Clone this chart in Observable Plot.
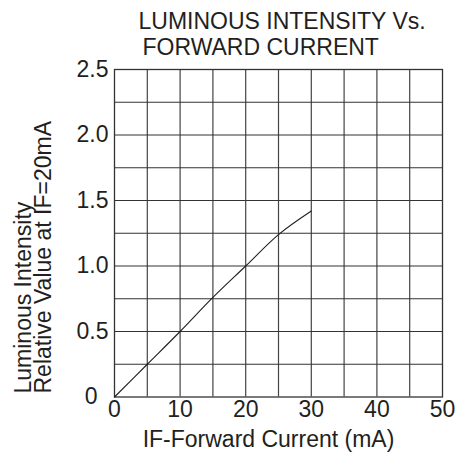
<!DOCTYPE html>
<html><head><meta charset="utf-8">
<script src="https://cdn.jsdelivr.net/npm/d3@7"></script>
<script src="https://cdn.jsdelivr.net/npm/@observablehq/plot@0.6"></script>
<style>body{margin:0;background:#fff}</style>
</head><body><div id="chart"></div>
<script>
const current = [0, 5, 10, 15, 20, 25, 30];
const intensity = [0, 0.25, 0.5, 0.76, 1.0, 1.24, 1.42];
const xTicks = [0, 10, 20, 30, 40, 50];
const xGrid = [5, 10, 15, 20, 25, 30, 35, 40, 45];
const yTicks = [0, 0.5, 1.0, 1.5, 2.0, 2.5];
const yTickLabels = ["0", "0.5", "1.0", "1.5", "2.0", "2.5"];
const yGrid = [0.25, 0.5, 0.75, 1.0, 1.25, 1.5, 1.75, 2.0, 2.25];
const titleLines = ["LUMINOUS INTENSITY Vs.", "FORWARD CURRENT"];
const yLabelLines = ["Luminous Intensity", "Relative Value at IF=20mA"];
const xLabel = "IF-Forward Current (mA)";

const data = current.map((c, i) => ({c, v: intensity[i]}));
const ink = "#231f20";
const fs = 23;
const yFmt = (d) => yTickLabels[yTicks.indexOf(d)];

const chart = Plot.plot({
  width: 456, height: 459,
  marginLeft: 114, marginRight: 14, marginTop: 69, marginBottom: 62.5,
  style: {fontFamily: "'Liberation Sans', Arial, sans-serif", fontSize: "23px", color: ink, background: "#fff"},
  x: {domain: [0, 50]},
  y: {domain: [0, 2.5]},
  marks: [
    Plot.ruleX(xGrid, {stroke: "#444", strokeWidth: 1.2}),
    Plot.ruleY(yGrid, {stroke: "#333", strokeWidth: 1.2}),
    Plot.frame({stroke: "#333", strokeWidth: 1.3}),
    Plot.axisX(xTicks, {tickSize: 0, tickPadding: 4, fill: ink, label: null, fontSize: fs}),
    Plot.axisY(yTicks.filter(d => d !== 0), {tickSize: 0, tickPadding: 6, fill: ink, label: null, fontSize: fs, tickFormat: yFmt}),
    Plot.axisY(yTicks.filter(d => d === 0), {tickSize: 0, tickPadding: 17, fill: ink, label: null, fontSize: fs, tickFormat: yFmt}),
    Plot.line(data, {x: "c", y: "v", stroke: ink, strokeWidth: 1.1, curve: "catmull-rom"}),
    Plot.text([titleLines[0]], {text: d => d, frameAnchor: "top-left", textAnchor: "start", dx: 24, dy: -57, fill: ink, fontSize: fs}),
    Plot.text([titleLines[1]], {text: d => d, frameAnchor: "top-left", textAnchor: "start", dx: 28, dy: -31, fill: ink, fontSize: fs}),
    Plot.text([yLabelLines[0]], {text: d => d, frameAnchor: "bottom-left", rotate: -90, textAnchor: "start", dx: -84, dy: -3.5, fill: ink, fontSize: fs}),
    Plot.text([yLabelLines[1]], {text: d => d, frameAnchor: "bottom-left", rotate: -90, textAnchor: "start", dx: -64, dy: -3.5, fill: ink, fontSize: fs}),
    Plot.text([xLabel], {text: d => d, frameAnchor: "bottom", dx: -10, dy: 50, fill: ink, fontSize: fs})
  ]
});
document.getElementById("chart").append(chart);
</script></body></html>
